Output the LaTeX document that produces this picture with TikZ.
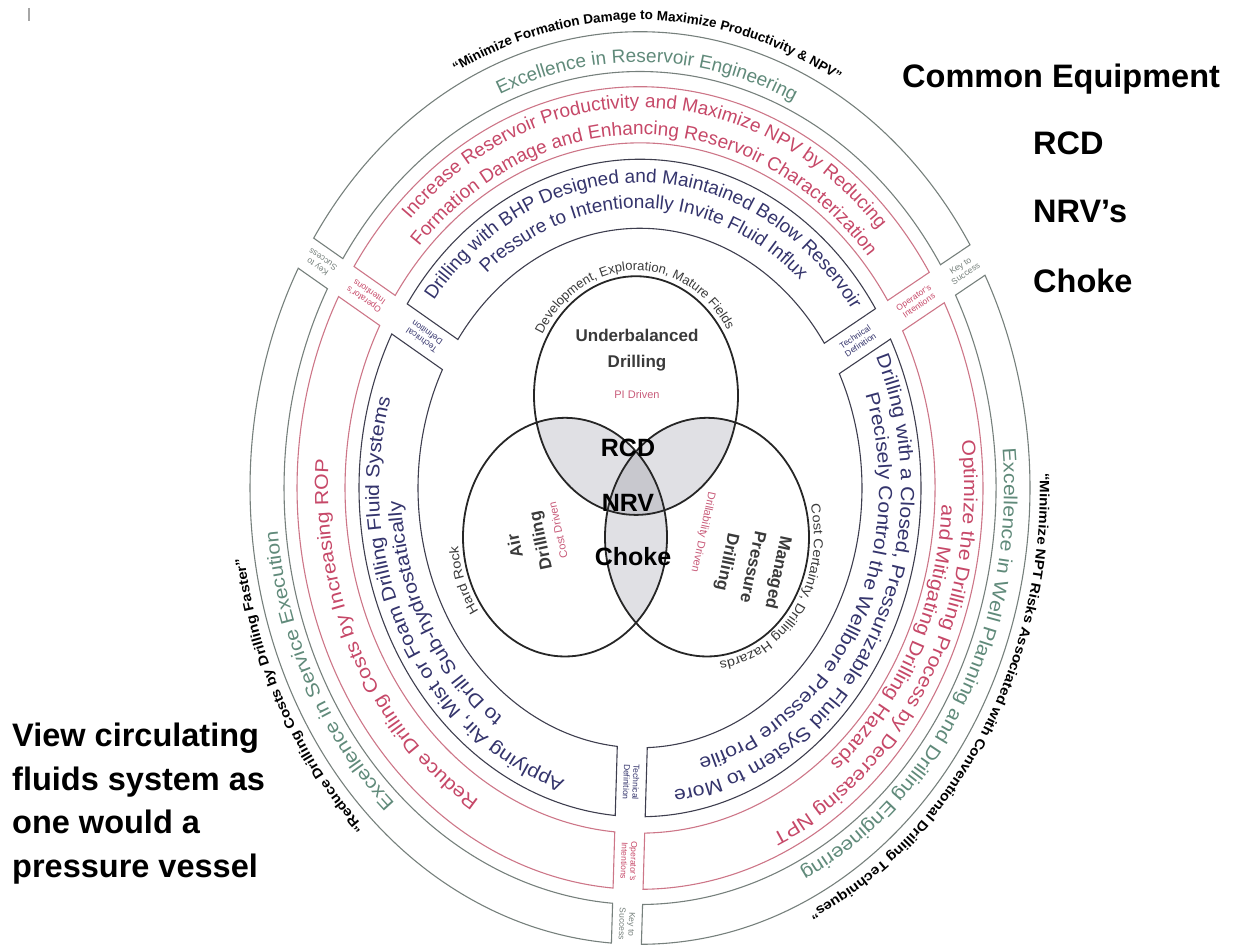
\documentclass[tikz,border=0pt]{standalone}
\usepackage{fontspec}
\setmainfont{Liberation Sans}
\newfontfamily\sidefamily[FakeStretch=1.12]{Liberation Sans}
\usetikzlibrary{decorations.text}

\definecolor{techtext}{RGB}{52,52,108}
\definecolor{techline}{RGB}{62,62,78}
\definecolor{oprtext}{RGB}{198,72,104}
\definecolor{oprline}{RGB}{205,118,136}
\definecolor{keytext}{RGB}{96,138,122}
\definecolor{keyline}{RGB}{118,128,124}
\definecolor{venntext}{RGB}{58,58,58}
\definecolor{drivetext}{RGB}{200,92,122}
\definecolor{lensgrey}{RGB}{224,224,228}
\definecolor{coregrey}{RGB}{200,200,206}

% fonts for the bent texts (top arc, and the stretched side arcs)
\newcommand\techfont{\fontsize{19}{19}\selectfont\color{techtext}}
\newcommand\oprfont{\fontsize{19}{19}\selectfont\color{oprtext}}
\newcommand\keyfont{\fontsize{19}{19}\selectfont\color{keytext}}
\newcommand\techside{\sidefamily\fontsize{19}{19}\selectfont\color{techtext}}
\newcommand\oprside{\sidefamily\fontsize{19}{19}\selectfont\color{oprtext}}
\newcommand\keyside{\sidefamily\fontsize{19}{19}\selectfont\color{keytext}}
\newcommand\quotefont{\fontsize{13.5}{13.5}\selectfont\bfseries}
\newcommand\quoteside{\sidefamily\fontsize{13.5}{13.5}\selectfont\bfseries}
\newcommand\rimfont{\fontsize{13}{13}\selectfont\color{venntext}}
\newcommand\rimside{\sidefamily\fontsize{13}{13}\selectfont\color{venntext}}

\begin{document}
\begin{tikzpicture}[x=1pt, y=-1pt,
    techbox/.style={draw=techline, line width=1.1pt},
    oprbox/.style={draw=oprline, line width=1.1pt},
    keybox/.style={draw=keyline, line width=1.1pt},
    vennring/.style={draw=black!85, line width=1.8pt},
    ringtext/.style={decorate, decoration={text along path, text align=center, #1}},
    gaplabel/.style={font=\fontsize{8.5}{9.5}\selectfont, align=center, inner sep=0pt},
    venntitle/.style={font=\fontsize{17}{26}\selectfont\bfseries, text=venntext, align=center, inner sep=0pt},
    driver/.style={font=\fontsize{11}{11}\selectfont, text=drivetext, inner sep=0pt},
    kit/.style={font=\fontsize{25}{25}\selectfont\bfseries, inner sep=0pt},
    bigtext/.style={font=\fontsize{32.5}{43.5}\selectfont\bfseries, inner sep=0pt}]
\useasboundingbox (0,0) rectangle (1239,950);
\draw[gray!70, line width=1.3pt] (29,8) -- (29,21);

\begin{scope}[shift={(640,488)}, yscale=-1.17]
  % three bands, each cut in three boxes
  \foreach \ra/\rb/\sty in {222/281/techbox, 295/343/oprbox, 356/390/keybox}{
    \foreach \ga/\gb in {30/149, 149/268, 268/390}{
      \pgfmathsetmacro\da{asin(15/\ra)}
      \pgfmathsetmacro\db{asin(15/\rb)}
      \draw[\sty] (\ga+\db:\rb) arc[start angle=\ga+\db, end angle=\gb-\db, radius=\rb]
        -- (\gb-\da:\ra) arc[start angle=\gb-\da, end angle=\ga+\da, radius=\ra] -- cycle;
    }
  }
  % labels in the gaps
  \foreach \g/\rot/\side in {30/34/ne, 149/145/nw, 268/268/s}{
    \node[gaplabel, text=techtext, rotate=\rot] (tech-\side) at (\g:251.5) {Technical\\Definition};
    \node[gaplabel, text=oprtext, rotate=\rot] (opr-\side) at (\g:319) {Operator’s\\Intentions};
    \node[gaplabel, text=keyline, rotate=\rot] (key-\side) at (\g:373) {Key to\\Success};
  }

  % top boxes
  \path[ringtext={text={|\techfont|Drilling with BHP Designed and Maintained Below Reservoir}}]
    (174:261) arc[start angle=174, end angle=4, radius=261];
  \path[ringtext={text={|\techfont|Pressure to Intentionally Invite Fluid Influx}}]
    (174:239) arc[start angle=174, end angle=4, radius=239];
  \path[ringtext={text={|\oprfont|Increase Reservoir Productivity and Maximize NPV by Reducing}}]
    (174:325) arc[start angle=174, end angle=4, radius=325];
  \path[ringtext={text={|\oprfont|Formation Damage and Enhancing Reservoir Characterization}}]
    (174:302) arc[start angle=174, end angle=4, radius=302];
  \path[ringtext={text={|\keyfont|Excellence in Reservoir Engineering}}]
    (174:364) arc[start angle=174, end angle=4, radius=364];
  \path[ringtext={text={|\quotefont|“Minimize Formation Damage to Maximize Productivity {\&} NPV”}}]
    (174:400) arc[start angle=174, end angle=4, radius=400];

  % left boxes
  \path[ringtext={text={|\techside|Applying Air, Mist or Foam Drilling Fluid Systems}}]
    (295:261) arc[start angle=295, end angle=125, radius=261];
  \path[ringtext={text={|\techside|to Drill Sub-hydrostatically}}]
    (297:239) arc[start angle=297, end angle=127, radius=239];
  \path[ringtext={text={|\oprside|Reduce Drilling Costs by Increasing ROP}}]
    (295:312) arc[start angle=295, end angle=125, radius=312];
  \path[ringtext={text={|\keyside|Excellence in Service Execution}}]
    (295:364) arc[start angle=295, end angle=125, radius=364];
  \path[ringtext={text={|\quoteside|“Reduce Drilling Costs by Drilling Faster”}}]
    (296:400) arc[start angle=296, end angle=126, radius=400];

  % right boxes
  \path[ringtext={text={|\techside|Drilling with a Closed, Pressurizable Fluid System to More}}]
    (55:261) arc[start angle=55, end angle=-115, radius=261];
  \path[ringtext={text={|\techside|Precisely Control the Wellbore Pressure Profile}}]
    (55:239) arc[start angle=55, end angle=-115, radius=239];
  \path[ringtext={text={|\oprside|Optimize the Drilling Process by Decreasing NPT}}]
    (53:324) arc[start angle=53, end angle=-117, radius=324];
  \path[ringtext={text={|\oprside|and Mitigating Drilling Hazards}}]
    (55:302) arc[start angle=55, end angle=-115, radius=302];
  \path[ringtext={text={|\keyside|Excellence in Well Planning and Drilling Engineering}}]
    (53:364) arc[start angle=53, end angle=-117, radius=364];
  \path[ringtext={text={|\quoteside|“Minimize NPT Risks Associated with Conventional Drilling Techniques”}}]
    (50.5:400) arc[start angle=50.5, end angle=-119.5, radius=400];

  % venn of the three methods
  \begin{scope}
    \clip (-4,79) circle[radius=102];
    \fill[lensgrey] (-75,-42) circle[radius=102];
    \fill[lensgrey] (67,-42) circle[radius=102];
  \end{scope}
  \begin{scope}
    \clip (-75,-42) circle[radius=102];
    \fill[lensgrey] (67,-42) circle[radius=102];
    \clip (-4,79) circle[radius=102];
    \fill[coregrey] (67,-42) circle[radius=102];
  \end{scope}
  \draw[vennring] (-4,79) circle[radius=102];
  \draw[vennring] (-75,-42) circle[radius=102];
  \draw[vennring] (67,-42) circle[radius=102];

  \path[shift={(-4,79)}, ringtext={text={|\rimfont|Development, Exploration, Mature Fields}}]
    (171:107) arc[start angle=171, end angle=11, radius=107];
  \path[shift={(-75,-42)}, ringtext={text={|\rimside|Hard Rock}}]
    (283:107) arc[start angle=283, end angle=123, radius=107];
  \path[shift={(67,-42)}, ringtext={text={|\rimside|Cost Certainty, Drilling Hazards}}]
    (44:107) arc[start angle=44, end angle=-116, radius=107];
\end{scope}

% names inside the circles
\node[venntitle] (ubd) at (637,350) {Underbalanced\\Drilling};
\node[driver] (pi) at (637,395) {PI Driven};
\node[venntitle, rotate=102] (air) at (529,543) {Air\\Drilling};
\node[driver, rotate=102] (cost) at (558,530) {Cost Driven};
\node[venntitle, rotate=-102] (mpd) at (752,567) {Managed\\Pressure\\Drilling};
\node[driver, rotate=-102] (drill) at (703,532) {Drillability Driven};
\node[kit] (rcd) at (628,448) {RCD};
\node[kit] (nrv) at (628,503) {NRV};
\node[kit] (choke) at (633,557) {Choke};

% side notes
\node[bigtext, anchor=base west] (common) at (902,87) {Common Equipment};
\node[bigtext, anchor=base west] (rcdnote) at (1033,154) {RCD};
\node[bigtext, anchor=base west] (nrvnote) at (1033,222) {NRV’s};
\node[bigtext, anchor=base west] (chokenote) at (1033,292) {Choke};
\node[bigtext, align=left, anchor=north west] (vessel) at (12,723)
  {View circulating\\fluids system as\\one would a\\pressure vessel};
\end{tikzpicture}
\end{document}
